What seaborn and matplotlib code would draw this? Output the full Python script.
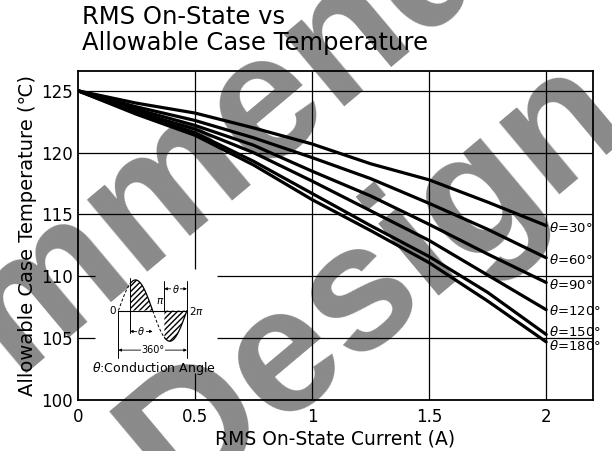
import numpy as np
import pandas as pd
import matplotlib
matplotlib.use("Agg")
import matplotlib.pyplot as plt
import seaborn as sns

# RMS on-state current (A) and allowable case temperature (°C) per conduction angle
current = [0, 0.25, 0.5, 0.75, 1.0, 1.25, 1.5, 1.75, 2.0]
temp_30 = [125, 124.0, 123.2, 122.0, 120.7, 119.1, 117.8, 116.0, 114.1]
temp_60 = [125, 123.7, 122.6, 121.2, 119.6, 117.9, 115.9, 113.8, 111.5]
temp_90 = [125, 123.5, 122.2, 120.6, 118.5, 116.5, 114.2, 111.8, 109.5]
temp_120 = [125, 123.3, 121.9, 120.0, 117.7, 115.3, 112.9, 110.1, 107.3]
temp_150 = [125, 123.2, 121.6, 119.3, 116.7, 114.1, 111.6, 108.7, 105.3]
temp_180 = [125, 123.1, 121.4, 119.0, 116.2, 113.7, 111.1, 108.0, 104.7]
angles = [30, 60, 90, 120, 150, 180]
series = [temp_30, temp_60, temp_90, temp_120, temp_150, temp_180]

x_ticks = [0, 0.5, 1, 1.5, 2]
x_tick_labels = ["0", "0.5", "1", "1.5", "2"]
y_ticks = [100, 105, 110, 115, 120, 125]

df = pd.DataFrame({
    "current": current * len(angles),
    "temp": sum(series, []),
    "angle": np.repeat(angles, len(current)),
})

sns.set_style("white")
plt.rcParams["font.family"] = ["DejaVu Sans"]
plt.rcParams["mathtext.fontset"] = "dejavusans"
plt.rcParams["text.color"] = "black"
plt.rcParams["axes.labelcolor"] = "black"

W, H = 612, 451
fig = plt.figure(figsize=(W / 100, H / 100), dpi=100)
fig.patch.set_facecolor("white")
ax = fig.add_axes([78 / W, 1 - 400 / H, 515 / W, 329 / H])
ax.set_facecolor("none")

# watermark behind everything
wm = dict(ha="center", va="baseline", rotation=40, rotation_mode="anchor",
          fontsize=128, fontweight="bold", family=["Liberation Sans", "DejaVu Sans"],
          color="#8a8a8a", zorder=-1)
fig.text(40 / W, 1 - 362 / H, "Not Recommended", **wm)
fig.text(138 / W, 1 - 548 / H, "for New Design", **wm)

sns.lineplot(data=df, x="current", y="temp", hue="angle", palette=["black"] * len(angles),
             linewidth=2.3, legend=False, ax=ax, zorder=3)

ax.set_xlim(0, 2.2)
ax.set_ylim(100, 126.6)
ax.set_xticks(x_ticks)
ax.set_xticklabels(x_tick_labels)
ax.set_yticks(y_ticks)
ax.tick_params(length=0, labelsize=12, colors="black")
ax.tick_params(axis="x", pad=6)
ax.tick_params(axis="y", pad=4)
for s in ax.spines.values():
    s.set_color("black")
    s.set_linewidth(1.3)
    s.set_visible(True)

# inset box (white gap in the grid)
ix0, ix1, iy0, iy1 = 0.073, 0.595, 102.2, 110.56
for y in y_ticks[1:]:
    if iy0 < y < iy1:
        ax.hlines(y, 0, ix0, color="black", lw=0.9, zorder=1)
        ax.hlines(y, ix1, 2.2, color="black", lw=0.9, zorder=1)
    else:
        ax.hlines(y, 0, 2.2, color="black", lw=0.9, zorder=1)
for x in x_ticks[1:]:
    if ix0 < x < ix1:
        ax.vlines(x, 100, iy0, color="black", lw=0.9, zorder=1)
        ax.vlines(x, iy1, 126.6, color="black", lw=0.9, zorder=1)
    else:
        ax.vlines(x, 100, 126.6, color="black", lw=0.9, zorder=1)

# curve labels
nudge = {30: -0.2, 60: -0.2, 90: -0.2, 120: -0.1, 150: 0.2, 180: -0.3}
for a, t in zip(angles, series):
    ax.text(2.01, t[-1] + nudge[a], r"$\theta$=" + f"{a}°", fontsize=9.5,
            ha="left", va="center", zorder=4)

ax.set_xlabel("RMS On-State Current (A)", fontsize=13.5, labelpad=2)
ax.set_ylabel("Allowable Case Temperature (℃)", fontsize=14, labelpad=3)

fig.text(82 / W, 1 - 5 / H, "RMS On-State vs\nAllowable Case Temperature",
         ha="left", va="top", fontsize=17.5, linespacing=1.1, color="black")

# conduction-angle inset diagram
ins = ax.inset_axes([ix0, iy0, ix1 - ix0, iy1 - iy0], transform=ax.transData)
ins.set_facecolor("none")
ins.set_xlim(-2.14, 9.07)
ins.set_ylim(-2.03, 1.344)
ins.axis("off")
fire = 1.07
w = np.linspace(0, 2 * np.pi, 500)
sw = np.sin(w)
on = ((w >= fire) & (w <= np.pi)) | (w >= np.pi + fire)
ins.plot(np.where(on, w, np.nan), np.where(on, sw, np.nan), color="black", lw=0.9)
ins.plot(np.where(~on, w, np.nan), np.where(~on, sw, np.nan), color="black", lw=0.7, ls=(0, (3, 2)))
ins.fill_between(w, 0, sw, where=on, facecolor="none", edgecolor="black", hatch="//////", lw=0)
ins.plot([0, 2 * np.pi], [0, 0], color="black", lw=0.8)
ins.plot([fire, fire], [1.05, -0.72], color="black", lw=0.7)
ins.plot([np.pi + fire, np.pi + fire], [0.98, 0], color="black", lw=0.7)
ins.plot([2 * np.pi, 2 * np.pi], [0.98, -1.54], color="black", lw=0.7)
ins.plot([0, 0], [0, -1.54], color="black", lw=0.7)
arrow = dict(arrowstyle="<|-|>", lw=0.6, color="black", shrinkA=0, shrinkB=0, mutation_scale=4)
for xa, xb, ya, lab in [(fire, np.pi, -0.68, r"$\theta$"),
                        (np.pi + fire, 2 * np.pi, 0.71, r"$\theta$"),
                        (0, 2 * np.pi, -1.29, "360°")]:
    ins.annotate("", xy=(xa, ya), xytext=(xb, ya), arrowprops=arrow)
    ins.text((xa + xb) / 2, ya, lab, fontsize=7, ha="center", va="center",
             bbox=dict(facecolor="white", edgecolor="none", pad=0.3))
ins.text(-0.25, 0, "0", fontsize=7.5, ha="right", va="center")
ins.text(2 * np.pi + 0.2, 0, r"2$\pi$", fontsize=7.5, ha="left", va="center")
ins.text(np.pi + 0.35, 0.3, r"$\pi$", fontsize=7.5, ha="left", va="center")
ins.text(-2.44, -1.9, r"$\theta$:Conduction Angle", fontsize=9, ha="left", va="center", clip_on=False)

fig.savefig("out.png", dpi=100)
